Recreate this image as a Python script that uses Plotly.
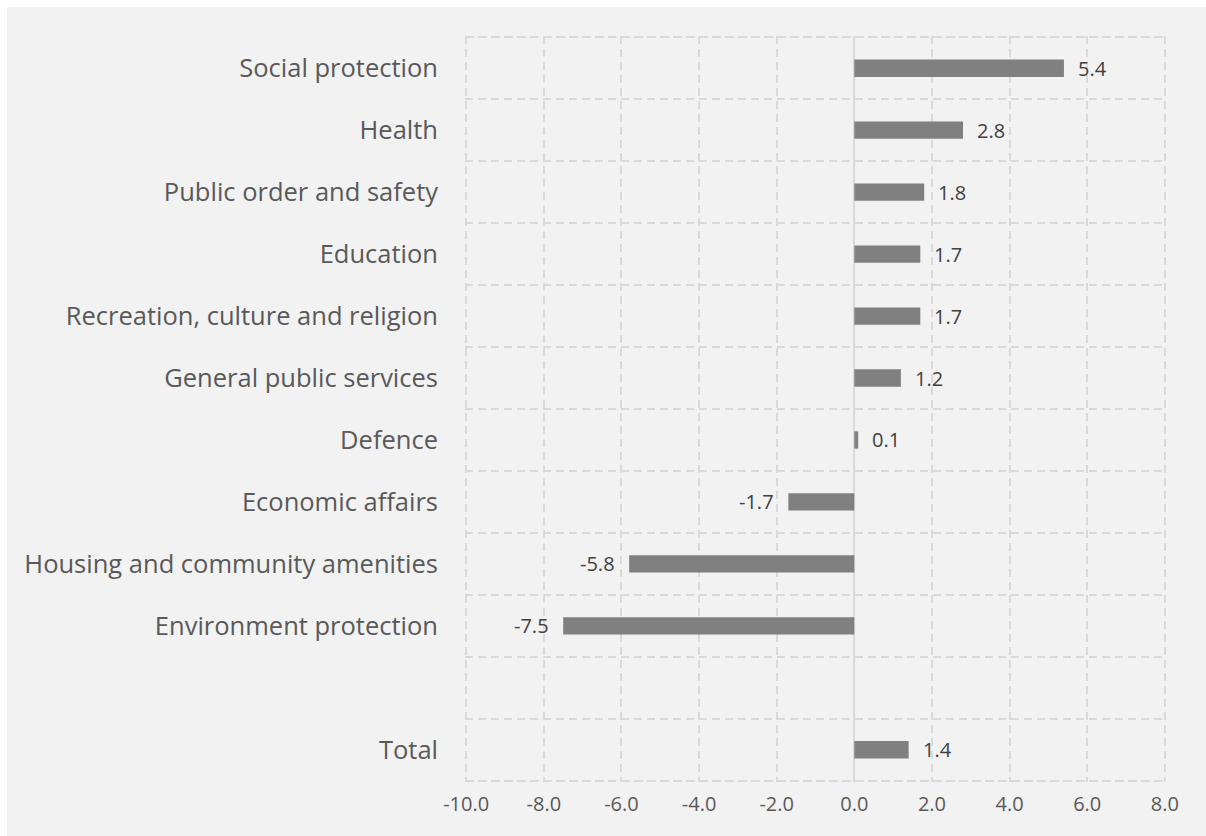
import plotly.graph_objects as go

# Change by function of government expenditure (top to bottom)
categories = [
    "Social protection",
    "Health",
    "Public order and safety",
    "Education",
    "Recreation, culture and religion",
    "General public services",
    "Defence",
    "Economic affairs",
    "Housing and community amenities",
    "Environment protection",
    " ",
    "Total",
]
values = [5.4, 2.8, 1.8, 1.7, 1.7, 1.2, 0.1, -1.7, -5.8, -7.5, None, 1.4]
labels = ["5.4", "2.8", "1.8", "1.7", "1.7", "1.2", "0.1", "-1.7", "-5.8", "-7.5", "", "1.4"]

x_ticks = [-10, -8, -6, -4, -2, 0, 2, 4, 6, 8]
x_ticktext = ["-10.0", "-8.0", "-6.0", "-4.0", "-2.0", "0.0", "2.0", "4.0", "6.0", "8.0"]

FONT = "Open Sans"
BG = "#f2f2f2"
GRID = "#d9d9d9"
DASH = "8px,5px"
GW = 1.6

fig = go.Figure()
fig.add_trace(go.Bar(
    x=values,
    y=categories,
    orientation="h",
    marker=dict(color="#808080", line=dict(width=0)),
    width=0.28,
    hoverinfo="skip",
))

# value labels beside each bar end
for cat, v, t in zip(categories, values, labels):
    if v is None:
        continue
    fig.add_annotation(
        x=v, y=cat, text=t, showarrow=False,
        xanchor="left" if v >= 0 else "right",
        xshift=12 if v >= 0 else -12,
        font=dict(family=FONT, size=20, color="#404040"),
    )

n = len(categories)
xmin, xmax = x_ticks[0], x_ticks[-1]

# outer top/bottom edges of the category grid
for yb in (-0.5, n - 0.5):
    fig.add_shape(
        type="line", xref="x", yref="y", layer="below",
        x0=xmin, x1=xmax, y0=yb, y1=yb,
        line=dict(color=GRID, width=GW, dash=DASH),
    )

# light grey card behind the chart, leaving a thin white edge top-left
L, R, T, B = 465, 40, 36, 54
W, H = 1206, 836
pw, ph = W - L - R, H - T - B
fig.add_shape(
    type="rect", xref="paper", yref="paper", layer="below",
    x0=(7 - L) / pw, x1=(W - L) / pw + 0.01,
    y0=-(B + 5) / ph, y1=(H - 7 - B) / ph,
    fillcolor=BG, line=dict(width=0),
)

fig.update_layout(
    width=W, height=H,
    margin=dict(l=L, r=R, t=T, b=B),
    paper_bgcolor="white",
    plot_bgcolor="rgba(0,0,0,0)",
    showlegend=False,
    xaxis=dict(
        range=[xmin - 0.03, xmax + 0.03],
        tickvals=x_ticks, ticktext=x_ticktext,
        showgrid=True, gridcolor=GRID, griddash=DASH, gridwidth=GW,
        zeroline=True, zerolinecolor=GRID, zerolinewidth=2,
        showline=False, ticks="",
        tickfont=dict(family=FONT, size=20, color="#595959"),
        ticklabelstandoff=8,
    ),
    yaxis=dict(
        type="category",
        categoryorder="array",
        categoryarray=categories[::-1],
        range=[-0.52, n - 0.48],
        tickson="boundaries",
        showgrid=True, gridcolor=GRID, griddash=DASH, gridwidth=GW,
        showline=False, ticks="",
        tickfont=dict(family=FONT, size=25.5, color="#595959"),
        ticklabelstandoff=26,
    ),
)

fig.write_html("out.html")
